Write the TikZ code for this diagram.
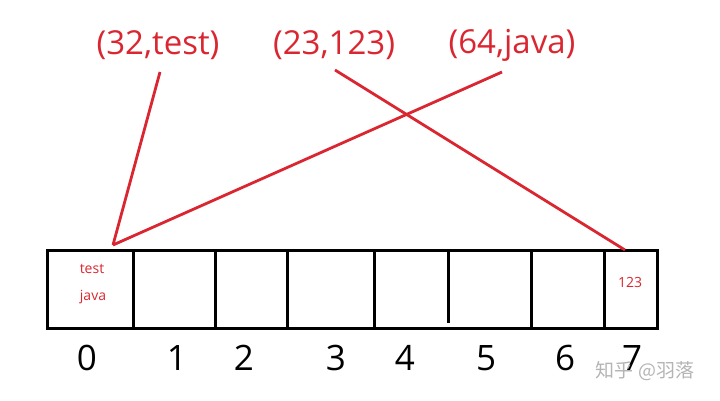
\documentclass[tikz,border=0pt]{standalone}
\usepackage{fontspec}
\setmainfont{Open Sans}
\newfontfamily\cjkfont{Noto Sans CJK SC}
\definecolor{hred}{RGB}{218,38,48}
\definecolor{wmgray}{RGB}{180,180,180}
\begin{document}
\begin{tikzpicture}[x=1pt,y=-1pt,
  cellline/.style={line width=3pt,black},
  redline/.style={line width=2.8pt,hred},
  pairlbl/.style={text=hred,font=\fontsize{33}{33}\selectfont,inner sep=0pt},
  idxlbl/.style={text=black,font=\fontsize{35}{35}\selectfont,inner sep=0pt,anchor=base},
  celltxt/.style={text=hred,font=\fontsize{14}{14}\selectfont,inner sep=0pt}]
\useasboundingbox (0,0) rectangle (720,401);
% array
\draw[cellline] (47,250) rectangle (657,328);
\foreach \x/\yb in {133/328,215/328,287/328,374/328,448/323,531/328,604/328}
  \draw[cellline] (\x,250) -- (\x,\yb);
% cell texts
\node[celltxt] (t0) at (92,269) {test};
\node[celltxt] (j0) at (93,297) {java};
\node[celltxt] (v7) at (630,282) {123};
% pair labels
\node[pairlbl] (p1) at (158,45) {(32,test)};
\node[pairlbl] (p2) at (334,45) {(23,123)};
\node[pairlbl] (p3) at (512,45) {(64,java)};
\coordinate (c0) at (113,245);
\coordinate (c7) at (625,250);
\coordinate (s1) at (160,72);
\coordinate (s2) at (335,70);
\coordinate (s3) at (502,72);
\draw[redline] (s1) -- (c0);
\draw[redline] (s3) -- (c0);
\draw[redline] (s2) -- (c7);
% indices
\foreach \i/\x in {0/87,1/177,2/244,3/336,4/405,5/486,6/565,7/632}
  \node[idxlbl] (i\i) at (\x,370) {\i};
% watermark
\node[text=wmgray,font=\cjkfont\fontsize{19}{19}\selectfont,inner sep=0pt] (wm) at (645,371) {知乎 @羽落};
\end{tikzpicture}
\end{document}
